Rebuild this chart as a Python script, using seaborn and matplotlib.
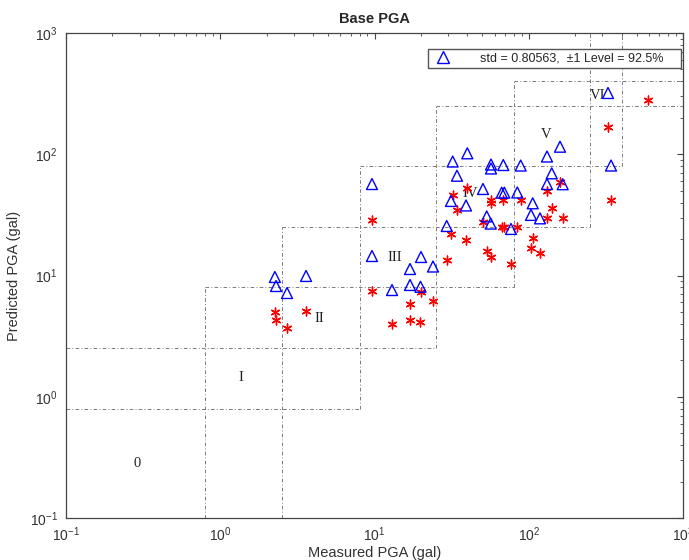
import numpy as np
import pandas as pd
import matplotlib
matplotlib.use("Agg")
import matplotlib.pyplot as plt
from matplotlib.lines import Line2D
import seaborn as sns

# ---- data ----
measured = [2.26, 2.30, 2.71, 3.60,
            9.63, 9.63, 12.99, 16.99, 16.99, 19.87, 20.02, 23.95,
            29.38, 31.32, 32.13, 34.25, 39.20, 39.96, 50.50, 53.39, 56.67,
            56.93, 56.93, 66.77, 68.39, 69.42, 76.71, 84.28, 88.65,
            103.4, 106.1, 118.3, 131.3, 131.3, 140.9, 159.5, 166.0,
            326.4, 341.5, 597.4]
pred_tri = [9.72, 8.19, 7.17, 9.91,
            56.8, 14.48, 7.59, 11.31, 8.35, 8.08, 14.21, 11.86,
            25.6, 41.2, 87.1, 66.5, 37.8, 101.8, 51.7, 30.7, 26.8,
            82.3, 76.3, 48.2, 81.5, 48.2, 24.2, 48.4, 80.7,
            31.6, 39.4, 29.6, 95.8, 56.8, 69.6, 115.4, 56.6,
            320.0, 80.7, 576.6]
pred_star = [5.00, 4.30, 3.69, 5.10,
             28.7, 7.45, 3.98, 5.82, 4.30, 4.14, 7.31, 6.20,
             13.55, 21.8, 45.7, 35.0, 19.6, 52.4, 27.4, 15.9, 14.26,
             42.3, 39.3, 25.1, 42.3, 25.1, 12.44, 25.1, 42.3,
             16.70, 20.4, 15.4, 49.9, 30.0, 36.2, 59.4, 29.6,
             166.2, 41.9, 280.2]

zone_bounds = [0.1, 0.8, 2.5, 8, 25, 80, 250, 400, 1000]
zone_names = ["0", "I", "II", "III", "IV", "V", "VI"]
zone_label_x = [0.289, 1.36, 4.37, 13.6, 41.6, 129.4, 281]
zone_label_y = [0.284, 1.43, 4.46, 14.2, 47.9, 146.8, 308]

legend_text = "std = 0.80563,  \u00b11 Level = 92.5%    "

df = pd.DataFrame({"measured": measured, "tri": pred_tri, "star": pred_star})

sns.set_style("white")
plt.rcParams["font.family"] = ["Liberation Sans", "DejaVu Sans"]
plt.rcParams["mathtext.fontset"] = "custom"
plt.rcParams["mathtext.rm"] = "Liberation Sans"

fig = plt.figure(figsize=(6.89, 5.60), dpi=100)
ax = fig.add_axes([66/689, 42/560, 617/689, 485/560])
ax.set_xscale("log")
ax.set_yscale("log")

# zone boxes (dotted)
n = len(zone_bounds)
ls = (0, (4, 2.5, 1, 2.5))
for i in range(1, n - 1):
    lo = zone_bounds[max(i - 2, 0)]
    hi = zone_bounds[min(i + 2, n - 1)]
    b = zone_bounds[i]
    ax.plot([lo, hi], [b, b], color="#707070", lw=0.65, linestyle=ls, zorder=1)
    ax.plot([b, b], [lo, hi], color="#707070", lw=0.65, linestyle=ls, zorder=1)

for name, lx, ly in zip(zone_names, zone_label_x, zone_label_y):
    ax.text(lx, ly, name, family=["Liberation Serif", "DejaVu Serif"],
            fontsize=10.5, ha="center", va="center", color="#222222", zorder=2)

sns.scatterplot(data=df, x="measured", y="star", ax=ax, marker=(6, 2, 0),
                s=40, color="red", edgecolor="red", linewidth=1.0,
                zorder=3, legend=False)
sns.scatterplot(data=df, x="measured", y="tri", ax=ax, marker="^",
                s=62, facecolor="none", edgecolor="blue", linewidth=1.0,
                zorder=4, legend=False)

ax.set_xlim(0.1, 1000)
ax.set_ylim(0.1, 1000)
ax.set_xlabel("Measured PGA (gal)", fontsize=10.5, color="#333333", labelpad=2)
ax.set_ylabel("Predicted PGA (gal)", fontsize=10.5, color="#333333", labelpad=6)
ax.set_title("Base PGA", fontsize=10.5, fontweight="bold", pad=7)

for sp in ax.spines.values():
    sp.set_color("#444444")
    sp.set_linewidth(0.9)
ax.tick_params(which="both", direction="in", top=True, right=True,
               colors="#444444", labelcolor="#333333", labelsize=10)
ax.tick_params(which="major", length=4, width=0.8)
ax.tick_params(which="minor", length=2.5, width=0.6)
ax.tick_params(axis="y", which="major", pad=6)
ax.tick_params(axis="x", which="major", pad=5)
ax.xaxis.set_major_locator(matplotlib.ticker.LogLocator(base=10, numticks=10))
ax.yaxis.set_major_locator(matplotlib.ticker.LogLocator(base=10, numticks=10))
ax.xaxis.set_minor_locator(matplotlib.ticker.LogLocator(base=10, subs=np.arange(2, 10), numticks=20))
ax.yaxis.set_minor_locator(matplotlib.ticker.LogLocator(base=10, subs=np.arange(2, 10), numticks=20))
ax.grid(False)

handle = Line2D([], [], marker="^", linestyle="none", markersize=8,
                markerfacecolor="none", markeredgecolor="blue", markeredgewidth=1.0)
leg = ax.legend([handle], [legend_text], loc="upper right",
                bbox_to_anchor=(0.997, 0.968), fontsize=9, frameon=True,
                fancybox=False, edgecolor="#555555", framealpha=1.0,
                handlelength=1.85, handletextpad=2.0, borderpad=0.3,
                borderaxespad=0.0)
leg.get_frame().set_linewidth(1.0)
leg.set_zorder(10)

fig.savefig("out.png", dpi=100)
